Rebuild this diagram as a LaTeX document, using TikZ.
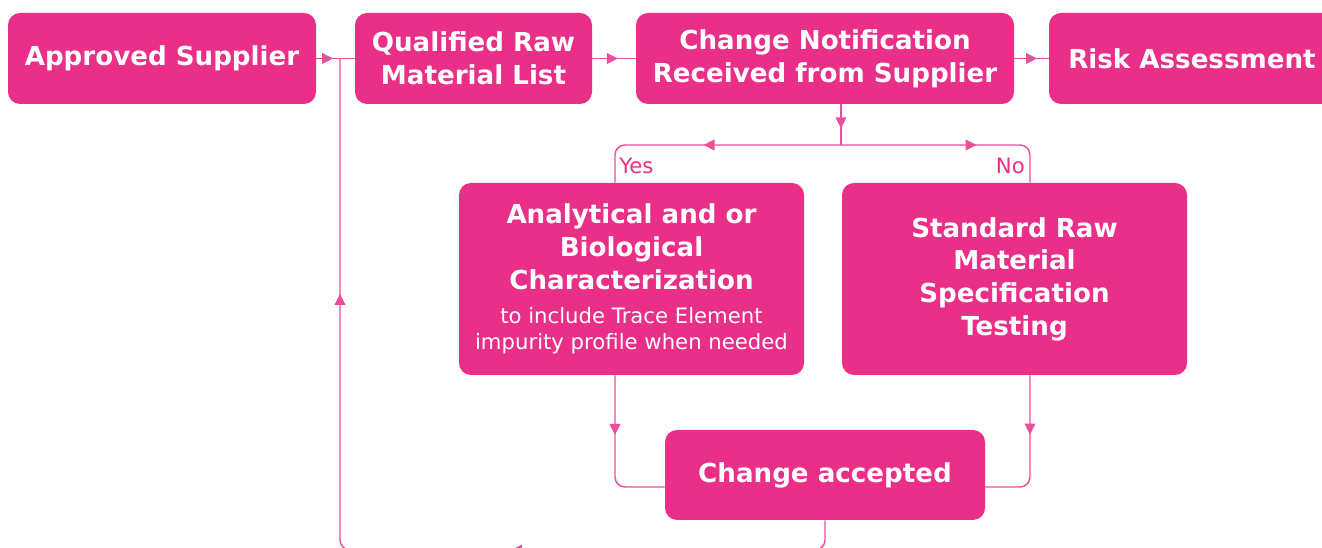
\documentclass[tikz,border=0pt]{standalone}
\usepackage{fontspec}
\setmainfont{DejaVu Sans}
\usetikzlibrary{positioning, arrows.meta, decorations.markings}
\definecolor{pinkbox}{HTML}{E92F88}
\definecolor{pinkline}{HTML}{EA4F9C}

\newcommand{\headfont}{\bfseries\fontsize{19.6}{24.5}\selectfont}
\newcommand{\notefont}{\mdseries\fontsize{15.9}{19.5}\selectfont}

\begin{document}
\begin{tikzpicture}[x=0.75pt, y=-0.75pt, >={Triangle[length=8.25pt,width=8pt]}]
	\tikzset{
		stepbox/.style={fill=pinkbox, rounded corners=9pt, text=white, font=\headfont, align=center, inner sep=0pt},
		conn/.style={color=pinkline, line width=1.1pt, rounded corners=7.5pt},
		arrowat/.style={postaction={decorate}, decoration={markings, mark=at position #1 with {\arrow{>}}}},
		twoarrows/.style 2 args={postaction={decorate}, decoration={markings, mark=at position #1 with {\arrow{>}}, mark=at position #2 with {\arrow{>}}}},
		branchlabel/.style={text=pinkbox, font=\notefont, inner sep=0pt}
	}
	\clip (0,0) rectangle (1322,548);

	% top row
	\node[stepbox, minimum width=231pt, minimum height=68.25pt] (supplier) at (162,58.5) {Approved Supplier};
	\node[stepbox, minimum width=177.75pt, minimum height=68.25pt] (rawlist) at (473.5,58.5) {Qualified Raw\\Material List};
	\node[stepbox, minimum width=283.5pt, minimum height=68.25pt] (notice) at (825,58.5) {Change Notification\\Received from Supplier};
	\node[stepbox, minimum width=214.5pt, minimum height=68.25pt] (risk) at (1192,58.5) {Risk Assessment};

	% testing
	\node[stepbox, minimum width=258.75pt, minimum height=144pt] (analytic) at (631.5,279) {Analytical and or\\Biological\\Characterization\\[1.5pt]{\notefont to include Trace Element}\\[-5pt]{\notefont impurity profile when needed}};
	\node[stepbox, minimum width=258.75pt, minimum height=144pt] (standard) at (1014.5,279) {Standard Raw\\Material\\Specification\\Testing};
	\node[stepbox, minimum width=240pt, minimum height=67.5pt] (accepted) at (825,475) {Change accepted};

	\coordinate (split) at (841,145);
	\coordinate (yes) at (615,145);
	\coordinate (no) at (1030,145);
	\coordinate (merge) at (825,487);
	\coordinate (low) at (340,550);
	\coordinate (join) at (340,58.5);

	\node[branchlabel, anchor=west] (yeslabel) at (619,166) {Yes};
	\node[branchlabel, anchor=east] (nolabel) at (1025,166) {No};

	% connectors
	\draw[conn, arrowat=0.44] (supplier.east) -- (rawlist.west);
	\draw[conn, arrowat=0.59] (rawlist.east) -- (notice.west);
	\draw[conn, arrowat=0.66] (notice.east) -- (risk.west);
	\draw[conn, arrowat=0.59] (notice.south -| split) -- (split);
	\draw[conn, arrowat=0.53] (split) -- (yes) -- (yes |- analytic.north);
	\draw[conn, arrowat=0.61] (split) -- (no) -- (no |- standard.north);
	\draw[conn, arrowat=0.38] (analytic.south -| yes) -- (yes |- merge) -- (accepted.west |- merge);
	\draw[conn, arrowat=0.39] (standard.south -| no) -- (no |- merge) -- (accepted.east |- merge);
	\draw[conn, twoarrows={0.34}{0.764}] (accepted.south) |- (low) -- (join);
\end{tikzpicture}
\end{document}
